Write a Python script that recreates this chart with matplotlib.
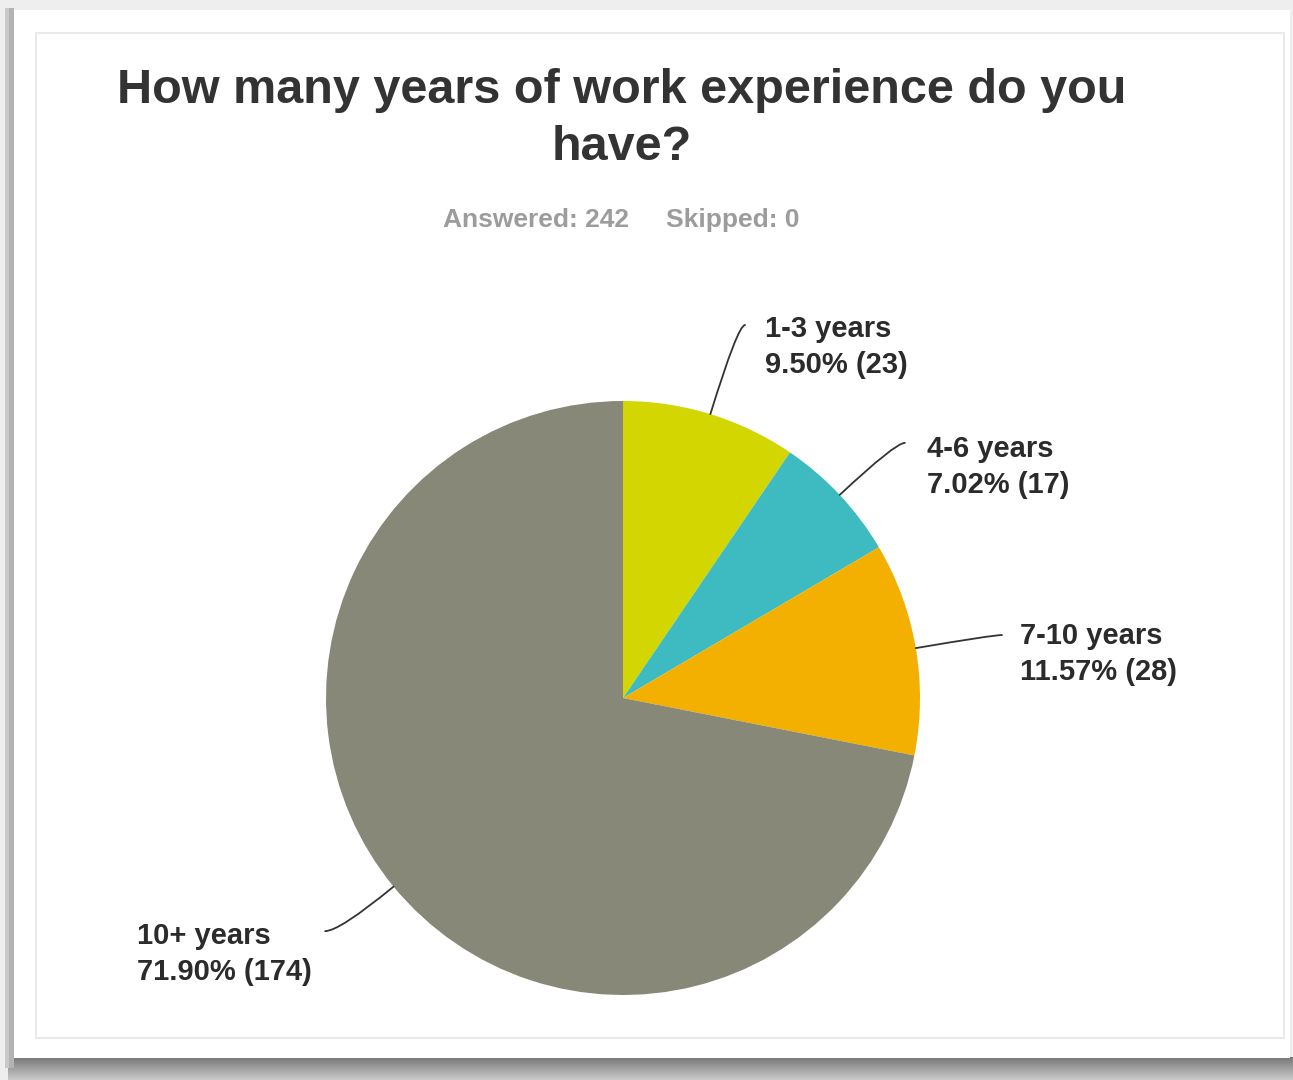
import numpy as np
import matplotlib.pyplot as plt
from matplotlib.patches import Rectangle

plt.rcParams['font.family'] = ['Liberation Sans', 'DejaVu Sans']

# survey answers, clockwise from 12 o'clock
CATEGORIES = ["1-3 years", "4-6 years", "7-10 years", "10+ years"]
COUNTS = [23, 17, 28, 174]
PERCENTS = [9.50, 7.02, 11.57, 71.90]
COLORS = ["#d3d600", "#3dbbc1", "#f4b000", "#878877"]
ANSWERED = 242
SKIPPED = 0
TITLE = "How many years of work experience do you\nhave?"

# label layout in pie units (radius = 1): leader line end, label top-left
LINE_ENDS = [(0.411, 1.256), (0.949, 0.859), (1.276, 0.212), (-1.003, -0.785)]
LABEL_POS = [(0.478, 1.290), (1.024, 0.886), (1.337, 0.256), (-1.636, -0.754)]

W, H = 1293, 1080
CX, CY, R = 623, 698, 297  # pie centre and radius in pixels


def draw_card(fig):
    bg = fig.add_axes([0, 0, 1, 1], zorder=-1)
    bg.set_xlim(0, W)
    bg.set_ylim(H, 0)
    bg.axis("off")

    # soft drop shadow under and left of the card
    grad = np.linspace(0, 1, 40)[:, None]
    shade = np.dstack([0.47 + 0.32 * grad] * 3)
    bg.imshow(np.repeat(shade, 2, axis=1), extent=(8, W, H, 1057), aspect="auto", zorder=1)
    bg.add_patch(Rectangle((5, 8), 9, 1060, color="#c9c9c9", lw=0, zorder=1))
    bg.add_patch(Rectangle((9, 8), 5, 1060, color="#b3b3b3", lw=0, zorder=1))

    bg.add_patch(Rectangle((14, 10), 1276, 1048, color="white", lw=0, zorder=2))
    bg.add_patch(Rectangle((36, 33), 1248, 1005, fill=False, edgecolor="#e9e9e9", lw=1.5, zorder=3))
    bg.set_xlim(0, W)
    bg.set_ylim(H, 0)


def main():
    fig = plt.figure(figsize=(W / 100, H / 100), dpi=100, facecolor="#eeeeee")
    draw_card(fig)

    ax = fig.add_axes([0, 0, 1, 1])
    ax.patch.set_alpha(0)
    wedges, _ = ax.pie(COUNTS, colors=COLORS, startangle=90, counterclock=False,
                       radius=1, wedgeprops=dict(linewidth=0))

    for wedge, cat, pct, cnt, end, pos in zip(wedges, CATEGORIES, PERCENTS, COUNTS, LINE_ENDS, LABEL_POS):
        mid = (wedge.theta1 + wedge.theta2) / 2
        edge = (np.cos(np.radians(mid)), np.sin(np.radians(mid)))
        ax.annotate("", xy=edge, xytext=end,
                    arrowprops=dict(arrowstyle="-", color="#333333", lw=1.3,
                                    connectionstyle=f"angle3,angleA=0,angleB={mid}",
                                    shrinkA=0, shrinkB=0))
        ax.text(pos[0], pos[1], f"{cat}\n{pct:.2f}% ({cnt})", ha="left", va="top",
                fontsize=21, fontweight="bold", color="#2b2b2b", linespacing=1.35)

    ax.set_xlim(-CX / R, (W - CX) / R)
    ax.set_ylim(-(H - CY) / R, CY / R)
    ax.set_aspect("auto")
    ax.axis("off")

    fig.text(622 / W, 1 - 68 / H, TITLE, ha="center", va="top", fontsize=35,
             fontweight="bold", color="#333333", linespacing=1.34)
    fig.text(443 / W, 1 - 227 / H, f"Answered: {ANSWERED}", va="baseline",
             fontsize=19, fontweight="bold", color="#9c9c9c")
    fig.text(666 / W, 1 - 227 / H, f"Skipped: {SKIPPED}", va="baseline",
             fontsize=19, fontweight="bold", color="#9c9c9c")

    fig.savefig("out.png", dpi=100, facecolor=fig.get_facecolor())


if __name__ == "__main__":
    main()
